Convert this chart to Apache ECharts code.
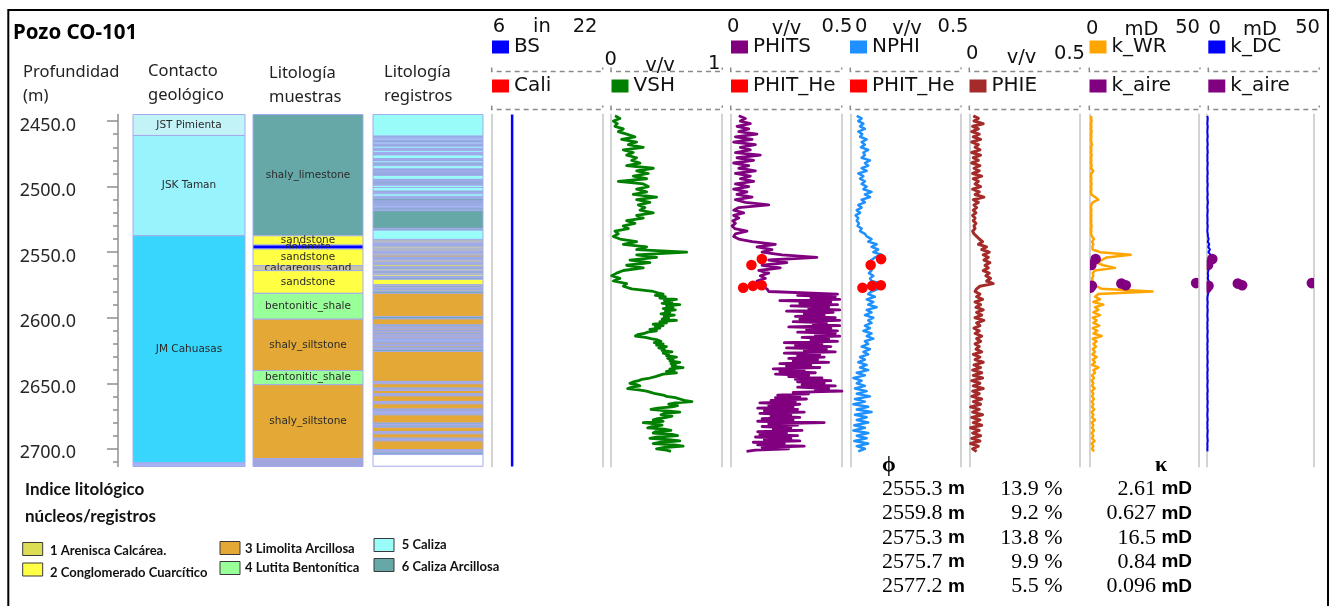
<!DOCTYPE html>
<html>
<head>
<meta charset="utf-8">
<script src="https://cdn.jsdelivr.net/npm/echarts@6/dist/echarts.min.js"></script>
<style>
  html, body { margin: 0; padding: 0; background: #fff; }
  #chart { width: 1331px; height: 606px; }
</style>
</head>
<body>
<div id="chart"></div>
<script>
// ---------- depth reference ----------
const depthTicks = [2450, 2500, 2550, 2600, 2650, 2700];
const minorDepthTicks = [2460, 2470, 2480, 2490, 2510, 2520, 2530, 2540, 2560, 2570, 2580, 2590,
  2610, 2620, 2630, 2640, 2660, 2670, 2680, 2690, 2710];

// sampling depths of the log curves (m), 2 m spacing
const curveDepth = [
  2446, 2448, 2450, 2452, 2454, 2456, 2458, 2460, 2462, 2464,
  2466, 2468, 2470, 2472, 2474, 2476, 2478, 2480, 2482, 2484,
  2486, 2488, 2490, 2492, 2494, 2496, 2498, 2500, 2502, 2504,
  2506, 2508, 2510, 2512, 2514, 2516, 2518, 2520, 2522, 2524,
  2526, 2528, 2530, 2532, 2534, 2536, 2538, 2540, 2542, 2544,
  2546, 2548, 2550, 2552, 2554, 2556, 2558, 2560, 2562, 2564,
  2566, 2568, 2570, 2572, 2574, 2576, 2578, 2580, 2582, 2584,
  2586, 2588, 2590, 2592, 2594, 2596, 2598, 2600, 2602, 2604,
  2606, 2608, 2610, 2612, 2614, 2616, 2618, 2620, 2622, 2624,
  2626, 2628, 2630, 2632, 2634, 2636, 2638, 2640, 2642, 2644,
  2646, 2648, 2650, 2652, 2654, 2656, 2658, 2660, 2662, 2664,
  2666, 2668, 2670, 2672, 2674, 2676, 2678, 2680, 2682, 2684,
  2686, 2688, 2690, 2692, 2694, 2696, 2698, 2700, 2702
];
// finer 1 m sampling below 2580 m for VSH and PHITS
const lowerDepth = [
  2581, 2582, 2583, 2584, 2585, 2586, 2587, 2588, 2589, 2590,
  2591, 2592, 2593, 2594, 2595, 2596, 2597, 2598, 2599, 2600,
  2601, 2602, 2603, 2604, 2605, 2606, 2607, 2608, 2609, 2610,
  2611, 2612, 2613, 2614, 2615, 2616, 2617, 2618, 2619, 2620,
  2621, 2622, 2623, 2624, 2625, 2626, 2627, 2628, 2629, 2630,
  2631, 2632, 2633, 2634, 2635, 2636, 2637, 2638, 2639, 2640,
  2641, 2642, 2643, 2644, 2645, 2646, 2647, 2648, 2649, 2650,
  2651, 2652, 2653, 2654, 2655, 2656, 2657, 2658, 2659, 2660,
  2661, 2662, 2663, 2664, 2665, 2666, 2667, 2668, 2669, 2670,
  2671, 2672, 2673, 2674, 2675, 2676, 2677, 2678, 2679, 2680,
  2681, 2682, 2683, 2684, 2685, 2686, 2687, 2688, 2689, 2690,
  2691, 2692, 2693, 2694, 2695, 2696, 2697, 2698, 2699, 2700,
  2701, 2702
];

// ---------- log curves ----------
const vshUpper = [
  .036, .081, .021, .057, .036, .111, .066, .141, .216, .096,
  .231, .156, .291, .111, .201, .141, .231, .186, .261, .141,
  .381, .231, .336, .201, .321, .066, .291, .336, .231, .321,
  .201, .411, .231, .351, .246, .306, .261, .381, .231, .291,
  .141, .216, .111, .156, .036, .066, .021, .081, .231, .111,
  .321, .231, .682, .231, .411, .171, .351, .141, .291, .111,
  .051, .006, .081, .021, .141, .111, .186, .381
];
const vshLower = [
  .42, .47, .40, .49, .44, .59, .48, .55, .46, .62,
  .50, .56, .47, .58, .49, .53, .45, .57, .48, .52,
  .46, .59, .44, .50, .38, .47, .40, .44, .35, .41,
  .33, .30, .24, .22, .31, .36, .42, .45, .39, .47,
  .41, .50, .43, .48, .46, .55, .47, .52, .50, .59,
  .51, .56, .53, .62, .54, .58, .55, .65, .53, .57,
  .50, .59, .47, .48, .40, .35, .28, .25, .20, .17,
  .23, .26, .19, .15, .25, .32, .36, .40, .47, .50,
  .58, .62, .66, .73, .58, .52, .60, .55, .42, .36,
  .50, .62, .48, .45, .55, .50, .42, .38, .47, .29,
  .40, .46, .37, .33, .48, .54, .40, .38, .55, .60,
  .42, .35, .52, .62, .45, .38, .57, .65, .48, .41,
  .50, .54
];
const phitsUpper = [
  .035, .065, .042, .087, .027, .080, .035, .117, .020, .095,
  .012, .110, .042, .087, .020, .132, .027, .102, .012, .080,
  .035, .110, .020, .087, .042, .102, .020, .080, .012, .072,
  .027, .095, .020, .065, .170, .035, .012, .057, .012, .035,
  .008, .020, .005, .017, .072, .020, .012, .035, .095, .200,
  .117, .185, .140, .230, .387, .170, .252, .140, .222, .125,
  .170, .132, .155, .117, .147, .140, .162, .170
];
const phitsLower = [
  .17, .48, .30, .47, .36, .49, .22, .45, .31, .48,
  .27, .44, .35, .49, .25, .46, .33, .42, .29, .47,
  .31, .49, .28, .43, .37, .49, .26, .45, .34, .48,
  .30, .47, .38, .49, .32, .44, .36, .48, .24, .41,
  .29, .45, .25, .43, .33, .47, .24, .40, .30, .42,
  .26, .39, .28, .44, .22, .36, .25, .40, .19, .33,
  .22, .38, .20, .35, .26, .41, .29, .45, .30, .42,
  .32, .47, .30, .44, .38, .50, .28, .35, .21, .31,
  .20, .34, .18, .29, .13, .31, .17, .28, .12, .30,
  .15, .33, .13, .27, .18, .31, .14, .28, .12, .42,
  .17, .30, .14, .27, .19, .32, .12, .25, .13, .30,
  .11, .27, .15, .31, .10, .24, .12, .33, .14, .26,
  .11, .07
];
const nphi = [
  .029, .051, .036, .059, .044, .066, .036, .054, .044, .074,
  .051, .066, .048, .081, .059, .066, .051, .089, .066, .081,
  .051, .074, .036, .059, .044, .066, .051, .074, .059, .096,
  .066, .089, .051, .066, .036, .051, .029, .044, .024, .036,
  .029, .039, .033, .051, .044, .066, .074, .096, .081, .119,
  .096, .126, .104, .141, .111, .096, .081, .104, .081, .096,
  .084, .104, .089, .096, .141, .081, .126, .096, .081, .111,
  .074, .104, .081, .119, .074, .096, .066, .104, .081, .096,
  .066, .089, .059, .096, .074, .104, .066, .081, .051, .089,
  .059, .081, .044, .066, .036, .074, .044, .081, .029, .066,
  .014, .051, .029, .066, .021, .074, .029, .089, .021, .066,
  .014, .081, .029, .096, .021, .074, .029, .081, .018, .066,
  .014, .081, .029, .074, .018, .081, .029, .066, .036
];
const phie = [
  .018, .041, .021, .063, .015, .041, .011, .045, .018, .051,
  .011, .041, .026, .048, .011, .051, .018, .041, .011, .048,
  .021, .045, .015, .056, .018, .041, .026, .051, .015, .045,
  .026, .066, .018, .041, .021, .033, .018, .030, .015, .026,
  .018, .030, .021, .026, .015, .021, .033, .045, .060, .041,
  .078, .056, .090, .063, .086, .066, .093, .071, .086, .063,
  .090, .075, .096, .078, .108, .048, .033, .026, .048, .033,
  .060, .026, .051, .030, .063, .033, .056, .026, .066, .033,
  .048, .021, .045, .026, .056, .033, .051, .026, .045, .030,
  .056, .018, .048, .026, .063, .021, .051, .015, .056, .018,
  .060, .011, .048, .018, .063, .015, .045, .011, .056, .018,
  .051, .006, .045, .015, .060, .011, .048, .018, .056, .006,
  .045, .015, .051, .011, .048, .006, .041, .015, .033
];
const kWR = [
  .62, .46, .77, .46, .62, .46, .77, .46, .62, .46,
  .62, .92, .46, .62, .46, .77, .46, .62, .46, .77,
  .46, 1.54, .62, .46, .62, .46, .77, .46, .62, .46,
  .62, 2.31, 3.85, 1.23, .62, .46, .62, .46, .62, .46,
  .62, .46, .77, .46, .62, .46, .92, 1.85, .92, 1.54,
  1.08, 1.23, 4.62, 18.8, 7.69, 5.38, 3.08, 6.15, 11.5, 2.31,
  1.23, 1.54, .92, 1.23, .77, 3.08, 5.38, 28.9, 3.85, 2.31,
  4.62, 1.54, 6.15, 2.31, 3.85, 1.54, 4.62, 1.23, 3.08, 1.54,
  4.31, 1.23, 3.38, 1.54, 5.38, 1.23, 3.08, 1.54, 2.77, 1.23,
  2.31, 1.08, 3.08, 1.23, 2.31, .92, 3.85, 1.54, 2.31, .92,
  1.85, .77, 1.54, .92, 2.15, .77, 1.54, .92, 1.85, .77,
  1.54, .92, 2.0, .77, 1.54, .92, 2.31, .77, 1.54, .92,
  1.85, .77, 1.54, .92, 2.15, .77, 1.54, .92, 1.85
];
const kDC = [
  .3, .5, .4, .3, .5, .4, .3, .4, .5, .3,
  .4, .5, .3, .4, .5, .3, .4, .3, .5, .4,
  .3, .4, .5, .3, .4, .3, .5, .4, .3, .4,
  .5, .3, .4, .6, .4, .3, .5, .4, .3, .4,
  .4, .3, .5, .4, .3, .5, .6, .9, .5, 1.2,
  .7, 1.5, .8, 1.8, 1.0, 1.4, .9, 1.2, .6, .8,
  .5, .7, .5, .9, 1.6, 2.3, 1.9, 1.0, .6, .4,
  .3, .5, .4, .3, .5, .4, .3, .4, .5, .3,
  .4, .3, .5, .4, .3, .4, .5, .3, .4, .3,
  .5, .4, .3, .4, .5, .3, .4, .5, .3, .4,
  .3, .5, .4, .3, .4, .5, .3, .4, .3, .5,
  .4, .3, .5, .4, .3, .4, .5, .3, .4, .3,
  .5, .4, .3, .4, .5, .3, .4, .3, .4
];
const bitSize = 8.9;   // in
const bitDepth = [2445, 2713.5];

// ---------- core plugs ----------
const coreDepth = [2555.3, 2559.8, 2575.3, 2575.7, 2577.2];
const corePhi = [13.9, 9.2, 13.8, 9.9, 5.5];          // %
const corePerm = [2.61, 0.627, 16.5, 0.84, 0.096];    // mD
const kAireDepth = [2555.3, 2559.8, 2573.6, 2574.0, 2575.3, 2575.7, 2577.2];
const kAireValue = [2.61, 0.627, 49, 14.5, 16.5, 0.84, 0.096];

// ---------- geological contacts ----------
const contactTop = [2445, 2461, 2537.5, 2710.7];
const contactBase = [2461, 2537.5, 2710.7, 2713.5];
const contactName = ['JST Pimienta', 'JSK Taman', 'JM Cahuasas', ''];
const contactColor = ['#c2f3f7', '#98f3fc', '#38d5fc', '#a6b4f4'];

// ---------- sample lithology ----------
const sampleTop = [2445, 2537.5, 2544.6, 2547.6, 2560.3, 2564.1, 2581.4, 2601.1, 2640.3, 2651.1, 2707.5];
const sampleBase = [2537.5, 2544.6, 2547.6, 2560.3, 2564.1, 2581.4, 2601.1, 2640.3, 2651.1, 2707.5, 2713.5];
const sampleName = ['shaly_limestone', 'sandstone', 'dolomite', 'sandstone', 'calcareous_sand', 'sandstone',
  'bentonitic_shale', 'shaly_siltstone', 'bentonitic_shale', 'shaly_siltstone', ''];
const sampleColorByName = {
  shaly_limestone: '#66a8a8', sandstone: '#ffff44', dolomite: '#0000ff', calcareous_sand: '#c6c2a6',
  bentonitic_shale: '#99ff99', shaly_siltstone: '#e3a836', '': '#a2a4de'
};

// ---------- log-derived lithology index (top, base, code) ----------
const logLitho = [
  [2445.0, 2461.5, 5], [2461.5, 2462.5, 6], [2462.5, 2463.2, 5], [2463.2, 2464.5, 5], [2464.5, 2465.3, 6],
  [2465.3, 2466.2, 6], [2466.2, 2467.5, 5], [2467.5, 2468.3, 6], [2468.3, 2469.2, 6], [2469.2, 2470.8, 5],
  [2470.8, 2471.6, 6], [2471.6, 2472.6, 6], [2472.6, 2474.0, 5], [2474.0, 2474.8, 6], [2474.8, 2475.8, 6],
  [2475.8, 2478.6, 5], [2478.6, 2479.4, 6], [2479.4, 2480.4, 6], [2480.4, 2482.0, 5], [2482.0, 2483.0, 6],
  [2483.0, 2484.0, 6], [2484.0, 2486.5, 5], [2486.5, 2487.5, 6], [2487.5, 2488.2, 6], [2488.2, 2488.8, 6],
  [2488.8, 2489.5, 6], [2489.5, 2490.5, 6], [2490.5, 2491.5, 6], [2491.5, 2494.5, 5], [2494.5, 2495.5, 6],
  [2495.5, 2496.4, 6], [2496.4, 2497.3, 6], [2497.3, 2498.2, 6], [2498.2, 2499.0, 6], [2499.0, 2500.7, 5],
  [2500.7, 2503.5, 5], [2503.5, 2504.5, 6], [2504.5, 2505.5, 6], [2505.5, 2507.5, 5], [2507.5, 2508.4, 6],
  [2508.4, 2509.3, 6], [2509.3, 2511.0, 6], [2511.0, 2511.8, 6], [2511.8, 2512.6, 6], [2512.6, 2513.4, 6],
  [2513.4, 2514.2, 6], [2514.2, 2515.0, 6], [2515.0, 2516.0, 5], [2516.0, 2517.2, 6], [2517.2, 2518.3, 6],
  [2518.3, 2531.9, 6], [2531.9, 2533.2, 6], [2533.2, 2540.3, 5], [2540.3, 2541.5, 1], [2541.5, 2542.5, 1],
  [2542.5, 2543.5, 1], [2543.5, 2544.4, 6], [2544.4, 2545.3, 6], [2545.3, 2546.2, 1], [2546.2, 2547.5, 2],
  [2547.5, 2548.5, 1], [2548.5, 2549.5, 1], [2549.5, 2550.4, 6], [2550.4, 2551.3, 6], [2551.3, 2552.3, 1],
  [2552.3, 2553.8, 3], [2553.8, 2554.7, 6], [2554.7, 2555.6, 6], [2555.6, 2556.8, 1], [2556.8, 2557.8, 1],
  [2557.8, 2558.7, 6], [2558.7, 2559.6, 6], [2559.6, 2561.2, 1], [2561.2, 2562.0, 6], [2562.0, 2563.0, 6],
  [2563.0, 2564.3, 2], [2564.3, 2565.2, 6], [2565.2, 2566.1, 6], [2566.1, 2567.4, 1], [2567.4, 2568.6, 2],
  [2568.6, 2569.5, 6], [2569.5, 2570.7, 6], [2570.7, 2574.8, 2], [2574.8, 2575.8, 1], [2575.8, 2576.8, 6],
  [2576.8, 2577.8, 1], [2577.8, 2578.8, 6], [2578.8, 2579.8, 1], [2579.8, 2581.4, 6], [2581.4, 2599.2, 3],
  [2599.2, 2600.9, 6], [2600.9, 2605.5, 3], [2605.5, 2606.5, 6], [2606.5, 2607.5, 3], [2607.5, 2608.5, 6],
  [2608.5, 2609.5, 3], [2609.5, 2610.5, 6], [2610.5, 2611.7, 3], [2611.7, 2612.6, 6], [2612.6, 2613.6, 3],
  [2613.6, 2614.5, 6], [2614.5, 2615.5, 3], [2615.5, 2616.2, 6], [2616.2, 2616.8, 5], [2616.8, 2617.6, 6],
  [2617.6, 2618.3, 5], [2618.3, 2619.3, 6], [2619.3, 2620.3, 3], [2620.3, 2621.3, 6], [2621.3, 2622.5, 3],
  [2622.5, 2623.5, 6], [2623.5, 2624.5, 3], [2624.5, 2625.8, 6], [2625.8, 2648.6, 3], [2648.6, 2649.5, 6],
  [2649.5, 2650.4, 3], [2650.4, 2653.7, 3], [2653.7, 2654.6, 6], [2654.6, 2655.5, 3], [2655.5, 2658.0, 3],
  [2658.0, 2658.8, 6], [2658.8, 2659.6, 6], [2659.6, 2663.9, 3], [2663.9, 2664.8, 6], [2664.8, 2665.7, 3],
  [2665.7, 2669.7, 3], [2669.7, 2670.6, 6], [2670.6, 2671.5, 3], [2671.5, 2672.4, 6], [2672.4, 2673.3, 5],
  [2673.3, 2674.1, 6], [2674.1, 2680.4, 3], [2680.4, 2681.4, 6], [2681.4, 2682.4, 3], [2682.4, 2683.5, 6],
  [2683.5, 2686.8, 3], [2686.8, 2687.7, 6], [2687.7, 2688.6, 3], [2688.6, 2691.9, 3], [2691.9, 2692.9, 6],
  [2692.9, 2694.0, 3], [2694.0, 2700.8, 3], [2700.8, 2701.6, 6], [2701.6, 2702.4, 3], [2702.4, 2703.2, 6],
  [2703.2, 2704.4, 6], [2704.4, 2713.3, 0]
];

// lithology index legend (code 1..6), code 0 = no data
const litoNames = ['1 Arenisca Calcárea.', '2 Conglomerado Cuarcítico', '3 Limolita Arcillosa',
  '4 Lutita Bentonítica', '5 Caliza', '6 Caliza Arcillosa'];
const litoColors = ['#ffffff', '#dcdc55', '#ffff44', '#e3a836', '#99ff99', '#99fcf9', '#66a8a8'];

// curve track scales
const scaleMin = [6, 0, 0, 0, 0, 0, 0];
const scaleMax = [22, 1, 0.5, 0.5, 0.5, 50, 50];
const scaleUnit = ['in', 'v/v', 'v/v', 'v/v', 'v/v', 'mD', 'mD'];
const upperCurve = ['BS', '', 'PHITS', 'NPHI', '', 'k_WR', 'k_DC'];
const lowerCurve = ['Cali', 'VSH', 'PHIT_He', 'PHIT_He', 'PHIE', 'k_aire', 'k_aire'];

// ---------- layout ----------
const TOP = 114.5, H = 352, DMIN = 2445, DMAX = 2713.5;
const trackLeft = [133, 253, 373, 492, 611, 731, 850.3, 969.3, 1090, 1206.7];
const trackWidth = [112, 110, 110, 111, 111, 111, 110.7, 110.7, 108.3, 107.3];
const headFont = '"DejaVu Sans", sans-serif';

const grid = [{ left: 118, top: TOP, width: 1, height: H }];
const xAxis = [{ type: 'value', gridIndex: 0, show: false, min: 0, max: 1 }];
const axisGray = '#8f8f8f';
const yAxis = [
  {
    type: 'value', gridIndex: 0, inverse: true, min: DMIN, max: DMAX, position: 'left',
    axisLine: { show: true, onZero: false, lineStyle: { color: axisGray, width: 1.5 } },
    axisTick: { show: true, length: 5, customValues: minorDepthTicks, lineStyle: { color: axisGray, width: 1.5 } },
    axisLabel: { show: false }, splitLine: { show: false }
  },
  {
    type: 'value', gridIndex: 0, inverse: true, min: DMIN, max: DMAX, position: 'left',
    axisLine: { show: false, onZero: false },
    axisTick: { show: true, length: 11, customValues: depthTicks, lineStyle: { color: axisGray, width: 1.5 } },
    axisLabel: {
      show: true, customValues: depthTicks, formatter: v => Number(v).toFixed(1), margin: 42,
      fontFamily: '"Noto Sans", sans-serif', fontSize: 18, color: '#262626',
      verticalAlign: 'top', lineHeight: 9
    },
    splitLine: { show: false }
  }
];

for (let t = 0; t < 10; t++) {
  const isCurve = t >= 3;
  grid.push({ left: trackLeft[t], top: TOP, width: trackWidth[t], height: H });
  xAxis.push({
    type: 'value', gridIndex: t + 1, show: false,
    min: isCurve ? scaleMin[t - 3] : 0, max: isCurve ? scaleMax[t - 3] : 1
  });
  ['left', 'right'].forEach(pos => yAxis.push({
    type: 'value', gridIndex: t + 1, inverse: true, min: DMIN, max: DMAX, position: pos,
    axisLine: { show: isCurve, onZero: false, lineStyle: { color: '#d3d3d3', width: 2 } },
    axisTick: { show: false }, axisLabel: { show: false }, splitLine: { show: false }
  }));
}
const ax = t => ({ xAxisIndex: t + 1, yAxisIndex: 2 * (t + 1) });

// ---------- renderers ----------
function blockRenderer(fillOf, labelOf) {
  return function (params, api) {
    const a = api.coord([0, api.value(0)]);
    const b = api.coord([1, api.value(1)]);
    const r = { x: a[0], y: a[1], width: b[0] - a[0], height: b[1] - a[1] };
    const children = [{
      type: 'rect', shape: r,
      style: { fill: fillOf(params.dataIndex, api), stroke: '#a3abee', lineWidth: 1 }
    }];
    const label = labelOf ? labelOf(params.dataIndex) : '';
    if (label) {
      children.push({
        type: 'text',
        style: {
          text: label, x: r.x + r.width / 2, y: r.y + r.height / 2, align: 'center', verticalAlign: 'middle',
          font: '10.5px "DejaVu Sans", sans-serif', fill: '#2b2b2b'
        }
      });
    }
    return { type: 'group', children };
  };
}
function dotRenderer(params, api) {
  const p = api.coord([api.value(0), api.value(1)]);
  const cs = params.coordSys;
  return {
    type: 'circle', shape: { cx: p[0], cy: p[1], r: 5.3 },
    style: { fill: api.visual('color') },
    clipPath: { type: 'rect', shape: { x: cs.x, y: cs.y, width: cs.width, height: cs.height } }
  };
}
const pair = (vals, depths) => vals.map((v, i) => [v, depths[i]]);
function curve(name, t, data, color, width) {
  return Object.assign({
    type: 'line', name, data, color, showSymbol: false, symbol: 'none', clip: true,
    lineStyle: { color, width, join: 'round' }, itemStyle: { color }, animation: false
  }, ax(t));
}

const series = [
  Object.assign({
    type: 'custom', name: 'Contacto',
    data: contactTop.map((d, i) => [d, contactBase[i]]),
    renderItem: blockRenderer(i => contactColor[i], i => contactName[i])
  }, ax(0)),
  Object.assign({
    type: 'custom', name: 'Muestras',
    data: sampleTop.map((d, i) => [d, sampleBase[i]]),
    renderItem: blockRenderer(i => sampleColorByName[sampleName[i]], i => sampleName[i])
  }, ax(1)),
  Object.assign({
    type: 'custom', name: 'Registros',
    data: logLitho,
    renderItem: blockRenderer((i, api) => litoColors[api.value(2)], null)
  }, ax(2)),
  curve('BS', 3, bitDepth.map(d => [bitSize, d]), '#0000ff', 2.5),
  curve('Cali', 3, [], '#ff0000', 2),
  curve('VSH', 4, pair(vshUpper, curveDepth).concat(pair(vshLower, lowerDepth)), '#008000', 2.8),
  curve('PHITS', 5, pair(phitsUpper, curveDepth).concat(pair(phitsLower, lowerDepth)), '#800080', 2.8),
  Object.assign({
    type: 'custom', name: 'PHIT_He', itemStyle: { color: '#ff0000' },
    data: corePhi.map((v, i) => [v / 100, coreDepth[i]]), renderItem: dotRenderer, z: 5
  }, ax(5)),
  curve('NPHI', 6, pair(nphi, curveDepth), '#1e90ff', 2.5),
  Object.assign({
    type: 'custom', name: 'PHIT_He', itemStyle: { color: '#ff0000' },
    data: corePhi.map((v, i) => [v / 100, coreDepth[i]]), renderItem: dotRenderer, z: 5
  }, ax(6)),
  curve('PHIE', 7, pair(phie, curveDepth), '#a52a2a', 3),
  curve('k_WR', 8, pair(kWR, curveDepth), '#ffa500', 2.5),
  Object.assign({
    type: 'custom', name: 'k_aire', itemStyle: { color: '#800080' },
    data: kAireValue.map((v, i) => [v, kAireDepth[i]]), renderItem: dotRenderer, z: 5
  }, ax(8)),
  curve('k_DC', 9, pair(kDC, curveDepth), '#0000ff', 2),
  Object.assign({
    type: 'custom', name: 'k_aire', itemStyle: { color: '#800080' },
    data: kAireValue.map((v, i) => [v, kAireDepth[i]]), renderItem: dotRenderer, z: 5
  }, ax(9))
];

// ---------- curve headers ----------
const upperLegendLeft = [492, 0, 731, 850, 0, 1089.5, 1208.3];
const lowerLegendLeft = [492, 611.5, 731, 850, 969.5, 1089.5, 1208.3];
const legend = [];
const legendBase = {
  orient: 'horizontal', padding: 0, itemGap: 0, itemWidth: 17, itemHeight: 13, icon: 'rect',
  selectedMode: false, textStyle: { fontFamily: headFont, fontSize: 20, color: '#111', lineHeight: 22 }
};
for (let k = 0; k < 7; k++) {
  if (upperCurve[k]) legend.push(Object.assign({}, legendBase, { data: [upperCurve[k]], left: upperLegendLeft[k], top: 36 }));
  legend.push(Object.assign({}, legendBase, { data: [lowerCurve[k]], left: lowerLegendLeft[k], top: 75 }));
}

const scaleMinPos = [[492.7, 27], [604.5, 60], [727, 27], [855, 27], [966, 54], [1086, 29], [1208.5, 29]];
const scaleUnitPos = [[542, 27], [660, 66], [786.5, 29], [907, 29], [1021.5, 57.5], [1141.5, 30], [1260, 30]];
const scaleMaxPos = [[597.5, 27], [720.5, 64], [852.5, 27], [968.5, 27], [1085, 54], [1200, 28], [1320, 28]];
const bracketX = [[491.7, 602.7], [611, 722.3], [730.7, 841.7], [850.3, 961], [969.3, 1080], [1089.3, 1200], [1208.3, 1319.3]];

const graphic = [];
function txt(text, x, y, font, align, fill) {
  graphic.push({
    type: 'text', x, y, silent: true,
    style: { text, font, fill: fill || '#111', align: align || 'left', verticalAlign: 'middle' }
  });
}
const hf = '19.5px ' + headFont;
for (let k = 0; k < 7; k++) {
  txt(String(scaleMin[k]), scaleMinPos[k][0], scaleMinPos[k][1], hf, 'left');
  txt(scaleUnit[k], scaleUnitPos[k][0], scaleUnitPos[k][1], hf, 'center');
  txt(String(scaleMax[k]), scaleMaxPos[k][0], scaleMaxPos[k][1], hf, 'right');
  [71.5, 109.5].forEach(y => graphic.push({
    type: 'polyline', silent: true,
    shape: { points: [[bracketX[k][0], y - 4], [bracketX[k][0], y], [bracketX[k][1], y], [bracketX[k][1], y - 4]] },
    style: { stroke: '#8a8a8a', lineWidth: 1.5, lineDash: [5, 4], fill: 'none' }
  }));
}

// title and column headers
txt('Pozo CO-101', 13, 33, 'bold 20.5px "Noto Sans", sans-serif', 'left', '#000');
const colFont = '16.5px "Noto Sans", sans-serif';
txt('Profundidad', 23, 72.5, colFont, 'left', '#222');
txt('(m)', 23, 96.5, colFont, 'left', '#222');
txt('Contacto', 148, 71, colFont, 'left', '#222');
txt('geológico', 148, 95, colFont, 'left', '#222');
txt('Litología', 269, 73, colFont, 'left', '#222');
txt('muestras', 269, 97, colFont, 'left', '#222');
txt('Litología', 384, 72, colFont, 'left', '#222');
txt('registros', 384, 96, colFont, 'left', '#222');

// lithology index legend
txt('Indice litológico', 25, 490, 'bold 17px Lato, sans-serif', 'left', '#111');
txt('núcleos/registros', 25, 516.5, 'bold 17px Lato, sans-serif', 'left', '#111');
const litoBoxPos = [[22.7, 549], [22.7, 569.5], [220, 548], [220, 568], [374, 545], [374, 565]];
const litoTextPos = [[50, 550.7], [50, 573], [245, 549], [245, 568], [401.7, 545], [401.7, 566.5]];
litoNames.forEach((name, i) => {
  graphic.push({
    type: 'rect', silent: true,
    shape: { x: litoBoxPos[i][0], y: litoBoxPos[i][1] - 6.5, width: 20, height: 13 },
    style: { fill: litoColors[i + 1], stroke: '#3a3a3a', lineWidth: 1 }
  });
  txt(name, litoTextPos[i][0], litoTextPos[i][1], 'bold 13px Lato, sans-serif', 'left', '#111');
});

// core plug table
txt('ϕ', 882, 465, 'bold 22px "Liberation Serif", serif', 'left', '#000');
txt('κ', 1161, 465, 'bold 22px "Liberation Serif", serif', 'center', '#000');
const rowY = [489, 513.5, 538, 562, 586.5];
const rich = {
  n: { fontFamily: '"Liberation Serif", serif', fontSize: 22, fill: '#000' },
  u: { fontFamily: '"Liberation Sans", sans-serif', fontSize: 19, fontWeight: 'bold', fill: '#000' }
};
coreDepth.forEach((d, i) => {
  graphic.push({ type: 'text', x: 882, y: rowY[i], silent: true,
    style: { text: '{n|' + d.toFixed(1) + '\u00a0}{u|m}', rich, align: 'left', verticalAlign: 'middle' } });
  graphic.push({ type: 'text', x: 1062.5, y: rowY[i], silent: true,
    style: { text: '{n|' + corePhi[i].toFixed(1) + '\u00a0%}', rich, align: 'right', verticalAlign: 'middle' } });
  graphic.push({ type: 'text', x: 1192, y: rowY[i], silent: true,
    style: { text: '{n|' + String(corePerm[i]) + '\u00a0}{u|mD}', rich, align: 'right', verticalAlign: 'middle' } });
});

// outer frame
graphic.push({
  type: 'rect', silent: true, z: 100,
  shape: { x: 8.3, y: 10, width: 1319.7, height: 640 },
  style: { fill: 'none', stroke: '#000', lineWidth: 2 }
});

const chart = echarts.init(document.getElementById('chart'));
chart.setOption({
  animation: false,
  backgroundColor: '#ffffff',
  grid, xAxis, yAxis, legend, series, graphic
});
</script>
</body>
</html>
